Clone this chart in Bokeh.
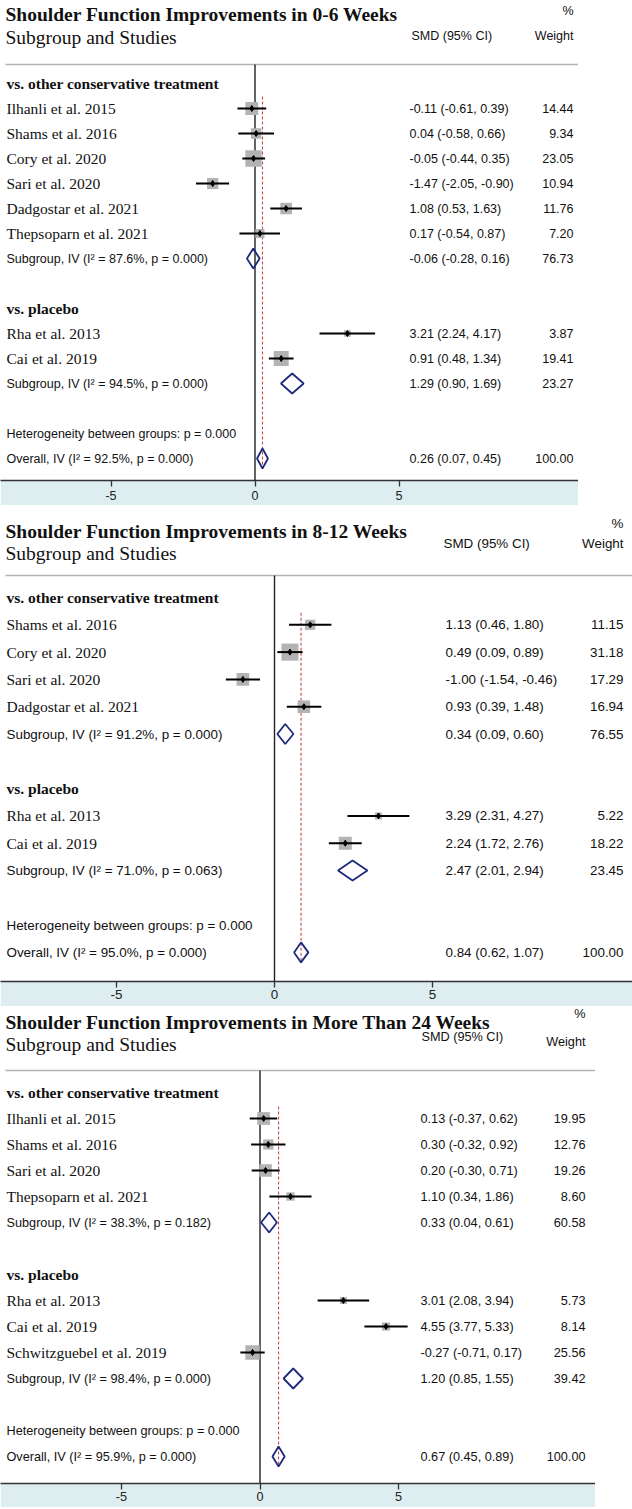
import math
from bokeh.plotting import figure
from bokeh.models import ColumnDataSource, Range1d, FixedTicker
from bokeh.layouts import column
from bokeh.embed import file_html
from bokeh.resources import INLINE
from bokeh.core.properties import value

# ---------------- DATA ----------------
groups = ["vs. other conservative treatment", "vs. placebo"]

# Panel 1: 0-6 weeks
t1_title = "Shoulder Function Improvements in 0-6 Weeks"
t1_a_study = ["Ilhanli et al. 2015", "Shams et al. 2016", "Cory et al. 2020",
              "Sari et al. 2020", "Dadgostar et al. 2021", "Thepsoparn et al. 2021"]
t1_a_smd = [-0.11, 0.04, -0.05, -1.47, 1.08, 0.17]
t1_a_lo = [-0.61, -0.58, -0.44, -2.05, 0.53, -0.54]
t1_a_hi = [0.39, 0.66, 0.35, -0.90, 1.63, 0.87]
t1_a_w = [14.44, 9.34, 23.05, 10.94, 11.76, 7.20]
t1_b_study = ["Rha et al. 2013", "Cai et al. 2019"]
t1_b_smd = [3.21, 0.91]
t1_b_lo = [2.24, 0.48]
t1_b_hi = [4.17, 1.34]
t1_b_w = [3.87, 19.41]
t1_sub_smd = [-0.06, 1.29]
t1_sub_lo = [-0.28, 0.90]
t1_sub_hi = [0.16, 1.69]
t1_sub_w = [76.73, 23.27]
t1_sub_i2 = [87.6, 94.5]
t1_sub_p = ["0.000", "0.000"]
t1_ov = [0.26, 0.07, 0.45, 100.00]
t1_ov_i2 = 92.5
t1_ov_p = "0.000"
t1_het_p = "0.000"

# Panel 2: 8-12 weeks
t2_title = "Shoulder Function Improvements in 8-12 Weeks"
t2_a_study = ["Shams et al. 2016", "Cory et al. 2020", "Sari et al. 2020", "Dadgostar et al. 2021"]
t2_a_smd = [1.13, 0.49, -1.00, 0.93]
t2_a_lo = [0.46, 0.09, -1.54, 0.39]
t2_a_hi = [1.80, 0.89, -0.46, 1.48]
t2_a_w = [11.15, 31.18, 17.29, 16.94]
t2_b_study = ["Rha et al. 2013", "Cai et al. 2019"]
t2_b_smd = [3.29, 2.24]
t2_b_lo = [2.31, 1.72]
t2_b_hi = [4.27, 2.76]
t2_b_w = [5.22, 18.22]
t2_sub_smd = [0.34, 2.47]
t2_sub_lo = [0.09, 2.01]
t2_sub_hi = [0.60, 2.94]
t2_sub_w = [76.55, 23.45]
t2_sub_i2 = [91.2, 71.0]
t2_sub_p = ["0.000", "0.063"]
t2_ov = [0.84, 0.62, 1.07, 100.00]
t2_ov_i2 = 95.0
t2_ov_p = "0.000"
t2_het_p = "0.000"

# Panel 3: more than 24 weeks
t3_title = "Shoulder Function Improvements in More Than 24 Weeks"
t3_a_study = ["Ilhanli et al. 2015", "Shams et al. 2016", "Sari et al. 2020", "Thepsoparn et al. 2021"]
t3_a_smd = [0.13, 0.30, 0.20, 1.10]
t3_a_lo = [-0.37, -0.32, -0.30, 0.34]
t3_a_hi = [0.62, 0.92, 0.71, 1.86]
t3_a_w = [19.95, 12.76, 19.26, 8.60]
t3_b_study = ["Rha et al. 2013", "Cai et al. 2019", "Schwitzguebel et al. 2019"]
t3_b_smd = [3.01, 4.55, -0.27]
t3_b_lo = [2.08, 3.77, -0.71]
t3_b_hi = [3.94, 5.33, 0.17]
t3_b_w = [5.73, 8.14, 25.56]
t3_sub_smd = [0.33, 1.20]
t3_sub_lo = [0.04, 0.85]
t3_sub_hi = [0.61, 1.55]
t3_sub_w = [60.58, 39.42]
t3_sub_i2 = [38.3, 98.4]
t3_sub_p = ["0.182", "0.000"]
t3_ov = [0.67, 0.45, 0.89, 100.00]
t3_ov_i2 = 95.9
t3_ov_p = "0.000"
t3_het_p = "0.000"

ticks = [-5, 0, 5]

# ---------------- LAYOUT ----------------
SERIF = "Liberation Serif"
SANS = "Liberation Sans"
GRAY_BOX = "#b3b3b3"
NAVY = "#1f2a7c"
RED = "#c94a4a"
BAND = "#ddedf0"

L1 = dict(width=578, fig_h=505, band=25, top=0, axis_y=480, zero=254.5, ppu=28.8,
          row0=83, sp=25, rule_y=64, pct_y=10, title_y=14, hdr_y=35, wt_y=35, sub_y=37,
          val_x=409, w_x=573, hdr_x=411, sans="12.5px", k=3.4, standoff=4)
L2 = dict(width=632, fig_h=501, band=25, top=505, axis_y=981, zero=274, ppu=31.6,
          row0=597, sp=27.3, rule_y=575, pct_y=523, title_y=531, hdr_y=543, wt_y=543, sub_y=553,
          val_x=445, w_x=623, hdr_x=443, sans="13.4px", k=3.05, standoff=2)
L3 = dict(width=595, fig_h=501, band=24, top=1006, axis_y=1483, zero=259.5, ppu=27.7,
          row0=1092, sp=26, rule_y=1070, pct_y=1013, title_y=1022, hdr_y=1036, wt_y=1041, sub_y=1044,
          val_x=420, w_x=585, hdr_x=421, sans="12.7px", k=2.85, standoff=2)


def ci_text(e, lo, hi):
    return f"{e:.2f} ({lo:.2f}, {hi:.2f})"


def build(title, a, b, sub, ov, ov_i2, ov_p, het_p, L):
    zero, ppu, W = L["zero"], L["ppu"], L["width"]

    def X(px):
        return (px - zero) / ppu

    x0, x1 = X(0), X(W)

    def Y(r):
        return L["row0"] + r * L["sp"]

    p = figure(width=W, height=L["fig_h"], x_range=Range1d(x0, x1),
               y_range=Range1d(L["axis_y"], L["top"]),
               output_backend="svg", toolbar_location=None,
               min_border_left=0, min_border_right=0, min_border_top=0,
               min_border_bottom=L["band"], y_axis_location=None,
               outline_line_color=None, border_fill_color=BAND,
               background_fill_color="white")
    p.xgrid.visible = False
    p.ygrid.visible = False
    ax = p.xaxis[0]
    ax.ticker = FixedTicker(ticks=ticks)
    ax.major_label_overrides = {t: str(t) for t in ticks}
    ax.minor_tick_line_color = None
    ax.major_tick_in = 0
    ax.major_tick_out = 6
    ax.major_tick_line_color = "#333333"
    ax.major_tick_line_width = 1.3
    ax.axis_line_color = "#333333"
    ax.axis_line_width = 1.5
    ax.major_label_text_font = SANS
    ax.major_label_text_font_size = L["sans"]
    ax.major_label_text_color = "#222222"
    ax.major_label_standoff = L["standoff"]

    na, nb = len(a[0]), len(b[0])
    rows_a = [Y(1 + i) for i in range(na)]
    y_sub_a = Y(na + 1)
    y_hdr_b = Y(na + 3)
    rows_b = [Y(na + 4 + i) for i in range(nb)]
    y_sub_b = Y(na + nb + 4)
    y_het = Y(na + nb + 6)
    y_ov = Y(na + nb + 7)

    # rule, zero line, overall reference line
    p.segment(x0=[X(5)], y0=[L["rule_y"]], x1=[x1], y1=[L["rule_y"]],
              line_color="#b4b4b4", line_width=1.5)
    p.segment(x0=[0], y0=[L["rule_y"]], x1=[0], y1=[L["axis_y"]],
              line_color="#222222", line_width=1.4)
    p.segment(x0=[ov[0]], y0=[rows_a[0] - 12], x1=[ov[0]], y1=[y_ov + 10],
              line_color=RED, line_width=1.1, line_dash="3 2")

    # studies
    names = a[0] + b[0]
    est = a[1] + b[1]
    lo = a[2] + b[2]
    hi = a[3] + b[3]
    w = a[4] + b[4]
    ys = rows_a + rows_b
    src = ColumnDataSource(dict(x=est, y=ys, lo=lo, hi=hi,
                                s=[L["k"] * math.sqrt(v) for v in w]))
    p.scatter(x="x", y="y", size="s", marker="square", source=src,
              fill_color=GRAY_BOX, line_color=None)
    p.segment(x0="lo", y0="y", x1="hi", y1="y", source=src,
              line_color="black", line_width=2)
    p.scatter(x="x", y="y", size=6, marker="diamond", source=src,
              fill_color="black", line_color="black")

    # diamonds
    dys = [y_sub_a, y_sub_b, y_ov]
    de = list(sub[0]) + [ov[0]]
    dl = list(sub[1]) + [ov[1]]
    dh = list(sub[2]) + [ov[2]]
    xs = [[l, e, h, e] for e, l, h in zip(de, dl, dh)]
    yy = [[y, y - 10, y, y + 10] for y in dys]
    p.patches(xs=xs, ys=yy, fill_alpha=0, line_color=NAVY, line_width=1.8)

    def txt(xs_, ys_, ts, font, size, style="normal", align="left"):
        s = ColumnDataSource(dict(x=xs_, y=ys_, t=ts))
        p.text(x="x", y="y", text="t", source=s, text_font=value(font),
               text_font_size=value(size), text_font_style=style,
               text_align=align, text_baseline="middle", text_color="#111111")

    # header
    txt([X(5)], [L["title_y"]], [title], SERIF, "19.5px", "bold")
    txt([X(5)], [L["sub_y"]], ["Subgroup and Studies"], SERIF, "19.5px")
    txt([X(L["w_x"])], [L["pct_y"]], ["%"], SANS, L["sans"], align="right")
    txt([X(L["hdr_x"])], [L["hdr_y"]], ["SMD (95% CI)"], SANS, L["sans"])
    txt([X(L["w_x"])], [L["wt_y"]], ["Weight"], SANS, L["sans"], align="right")

    # group headers and study names
    txt([X(6), X(6)], [Y(0), y_hdr_b], groups, SERIF, "15.5px", "bold")
    txt([X(6)] * len(names), ys, names, SERIF, "15.5px")

    # sans labels
    lab = [f"Subgroup, IV (I\u00b2 = {sub[4][0]:.1f}%, p = {sub[5][0]})",
           f"Subgroup, IV (I\u00b2 = {sub[4][1]:.1f}%, p = {sub[5][1]})",
           f"Heterogeneity between groups: p = {het_p}",
           f"Overall, IV (I\u00b2 = {ov_i2:.1f}%, p = {ov_p})"]
    txt([X(6)] * 4, [y_sub_a, y_sub_b, y_het, y_ov], lab, SANS, L["sans"])

    # values
    vy = ys + dys
    vt = [ci_text(e, l, h) for e, l, h in zip(est, lo, hi)] + \
         [ci_text(e, l, h) for e, l, h in zip(de, dl, dh)]
    wt = [f"{v:.2f}" for v in w] + [f"{v:.2f}" for v in list(sub[3]) + [ov[3]]]
    txt([X(L["val_x"])] * len(vy), vy, vt, SANS, L["sans"])
    txt([X(L["w_x"])] * len(vy), vy, wt, SANS, L["sans"], align="right")
    return p


p1 = build(t1_title,
           (t1_a_study, t1_a_smd, t1_a_lo, t1_a_hi, t1_a_w),
           (t1_b_study, t1_b_smd, t1_b_lo, t1_b_hi, t1_b_w),
           (t1_sub_smd, t1_sub_lo, t1_sub_hi, t1_sub_w, t1_sub_i2, t1_sub_p),
           t1_ov, t1_ov_i2, t1_ov_p, t1_het_p, L1)
p2 = build(t2_title,
           (t2_a_study, t2_a_smd, t2_a_lo, t2_a_hi, t2_a_w),
           (t2_b_study, t2_b_smd, t2_b_lo, t2_b_hi, t2_b_w),
           (t2_sub_smd, t2_sub_lo, t2_sub_hi, t2_sub_w, t2_sub_i2, t2_sub_p),
           t2_ov, t2_ov_i2, t2_ov_p, t2_het_p, L2)
p3 = build(t3_title,
           (t3_a_study, t3_a_smd, t3_a_lo, t3_a_hi, t3_a_w),
           (t3_b_study, t3_b_smd, t3_b_lo, t3_b_hi, t3_b_w),
           (t3_sub_smd, t3_sub_lo, t3_sub_hi, t3_sub_w, t3_sub_i2, t3_sub_p),
           t3_ov, t3_ov_i2, t3_ov_p, t3_het_p, L3)

page = column(p1, p2, p3, spacing=0)
open("out.html", "w").write(file_html(page, INLINE))
